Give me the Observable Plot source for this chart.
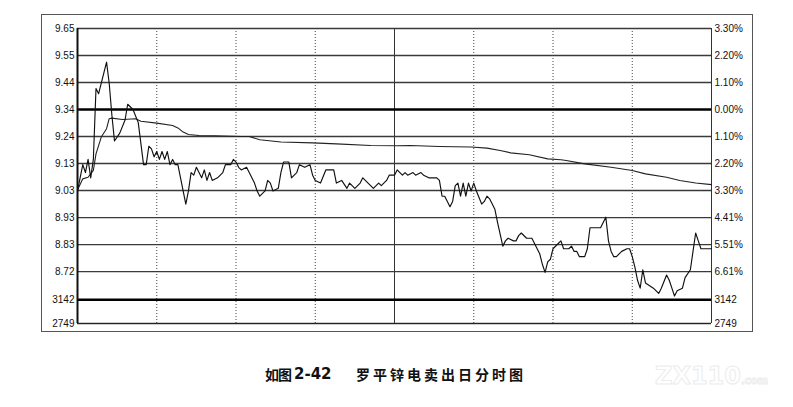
<!DOCTYPE html>
<html>
<head>
<meta charset="utf-8">
<script src="https://cdn.jsdelivr.net/npm/d3@7"></script>
<script src="https://cdn.jsdelivr.net/npm/@observablehq/plot@0.6"></script>
<style>
  html, body { margin: 0; padding: 0; background: #fff; }
  #wrap { position: relative; width: 793px; height: 407px; overflow: hidden; }
  #frame { position: absolute; left: 41px; top: 14px; width: 710px; height: 316px; border: 1px solid #555; pointer-events: none; }
  .cap { position: absolute; top: 365px; font-weight: bold; color: #111; white-space: pre; line-height: 18px; }
  #cap1 { left: 265px; font-family: "Noto Sans CJK SC", sans-serif; font-size: 14px; letter-spacing: -1px; }
  #cap2 { left: 294px; font-family: "DejaVu Sans", sans-serif; font-size: 15px; top: 365px; }
  #cap3 { left: 356px; font-family: "Noto Sans CJK SC", sans-serif; font-size: 14px; letter-spacing: 3px; }
  #wm { position: absolute; left: 655px; top: 362px; font-family: "DejaVu Sans", sans-serif; font-size: 24px; font-weight: bold; color: transparent; -webkit-text-stroke: 1px #ececec; white-space: nowrap; }
  #wm small { font-size: 10px; }
</style>
</head>
<body>
<div id="wrap">
  <div id="chart"></div>
  <div id="frame"></div>
  <span class="cap" id="cap1">如图</span>
  <span class="cap" id="cap2">2-42</span>
  <span class="cap" id="cap3">罗平锌电卖出日分时图</span>
  <div id="wm">ZX110<small>.com</small></div>
</div>
<script>
// ---- data ----
const prevClose = 9.34;
const pctLevels = [3.30, 2.20, 1.10, 0.00, -1.10, -2.20, -3.30, -4.41, -5.51, -6.61];
const leftLabels = ["9.65", "9.55", "9.44", "9.34", "9.24", "9.13", "9.03", "8.93", "8.83", "8.72"];
const rightLabels = ["3.30%", "2.20%", "1.10%", "0.00%", "1.10%", "2.20%", "3.30%", "4.41%", "5.51%", "6.61%"];
const volumeLabels = ["3142", "2749"];
const volumePanePct = [-7.75, -8.72];   // volume pane top / bottom, in price-pane units
const timeGrid = [30, 60, 90, 120, 150, 180, 210];

const priceMinutes = [0,2,3,4,5,6,7,8,9,11,12,13,14,16,18,19,21,23,24,25,26,27,28,29,30,31,32,33,34,35,36,37,38,39,41,42,43,44,45,47,48,49,50,51,53,55,56,58,59,60,61,62,64,65,67,68,69,71,72,73,74,76,77,78,80,81,83,84,86,88,89,90,92,94,97,98,100,102,103,105,107,108,110,112,114,115,117,118,120,121,123,124,125,127,128,130,131,133,134,136,137,138,139,141,142,143,144,145,146,147,148,149,150,151,153,154,155,156,158,159,161,162,163,165,166,167,168,170,172,173,175,176,177,178,179,180,182,183,184,185,186,187,188,189,190,192,193,194,195,198,200,201,202,203,204,206,208,209,210,211,212,213,214,215,218,220,221,223,224,225,226,227,229,230,232,233,234,235,236,237,239,240];
const priceValues = [9.03,9.13,9.10,9.15,9.08,9.15,9.42,9.40,9.44,9.52,9.44,9.32,9.22,9.25,9.30,9.36,9.34,9.29,9.21,9.13,9.13,9.20,9.19,9.16,9.18,9.15,9.18,9.15,9.18,9.13,9.15,9.13,9.13,9.08,8.98,9.03,9.10,9.09,9.12,9.08,9.11,9.07,9.10,9.07,9.08,9.10,9.13,9.13,9.15,9.14,9.12,9.11,9.12,9.10,9.06,9.03,9.01,9.03,9.07,9.06,9.03,9.04,9.10,9.14,9.14,9.08,9.10,9.13,9.12,9.13,9.09,9.07,9.06,9.11,9.11,9.06,9.07,9.04,9.06,9.04,9.06,9.08,9.06,9.04,9.06,9.05,9.07,9.09,9.09,9.11,9.09,9.10,9.09,9.10,9.09,9.10,9.09,9.08,9.08,9.08,9.07,9.01,9.01,8.97,8.99,9.05,9.06,9.01,9.06,9.01,9.06,9.03,9.06,9.03,8.98,8.99,9.01,9.00,8.96,8.91,8.82,8.84,8.85,8.84,8.84,8.86,8.87,8.85,8.85,8.83,8.79,8.75,8.72,8.76,8.77,8.81,8.83,8.84,8.81,8.81,8.81,8.82,8.80,8.80,8.78,8.78,8.81,8.89,8.89,8.89,8.93,8.84,8.80,8.78,8.78,8.80,8.81,8.81,8.78,8.74,8.69,8.66,8.73,8.68,8.66,8.64,8.66,8.71,8.69,8.66,8.63,8.65,8.66,8.70,8.73,8.80,8.87,8.84,8.81,8.81,8.81,8.81];

const avgMinutes = [0,2,4,6,7,9,11,12,13,17,22,24,30,36,38,40,42,46,52,62,65,69,77,89,98,111,121,126,137,149,155,160,164,171,178,183,185,192,202,210,215,223,228,234,240];
const avgValues = [9.034,9.076,9.082,9.108,9.171,9.235,9.267,9.305,9.307,9.302,9.305,9.295,9.288,9.279,9.270,9.254,9.245,9.241,9.240,9.237,9.237,9.225,9.216,9.213,9.209,9.203,9.202,9.203,9.199,9.197,9.193,9.184,9.175,9.168,9.152,9.149,9.146,9.133,9.120,9.108,9.095,9.082,9.070,9.060,9.054];

// ---- derived tables ----
const lvl = p => prevClose * (1 + p / 100);
const levels = pctLevels.map((p, i) => ({y: lvl(p), left: leftLabels[i], right: rightLabels[i], bold: p === 0}));
const volLevels = volumePanePct.map((p, i) => ({y: lvl(p), label: volumeLabels[i], bold: i === 0}));
const price = priceMinutes.map((m, i) => ({m, v: priceValues[i]}));
const avg = avgMinutes.map((m, i) => ({m, v: avgValues[i]}));
const allLevels = levels.map(d => ({y: d.y, bold: d.bold}))
  .concat(volLevels.map(d => ({y: d.y, bold: d.bold})));

const chart = Plot.plot({
  width: 793,
  height: 345,
  marginLeft: 77,
  marginRight: 82,
  marginTop: 28,
  marginBottom: 22,
  x: {domain: [0, 240], axis: null},
  y: {domain: [lvl(volumePanePct[1]), lvl(pctLevels[0])], axis: null},
  style: {fontFamily: "'Liberation Sans', Arial, sans-serif", fontSize: "10px", background: "transparent", color: "#111", overflow: "visible"},
  marks: [
    // vertical time grid
    Plot.ruleX(timeGrid.filter(t => t !== 120), {stroke: "#444", strokeWidth: 1, strokeDasharray: "1,2"}),
    Plot.ruleX([120], {stroke: "#333", strokeWidth: 1}),
    // horizontal grid
    Plot.ruleY(allLevels.filter(d => !d.bold), {y: "y", stroke: "#3a3a3a", strokeWidth: 1.3}),
    Plot.ruleY(allLevels.filter(d => d.bold), {y: "y", stroke: "#000", strokeWidth: 2.6}),
    Plot.ruleY(volLevels.slice(1), {y: "y", stroke: "#222", strokeWidth: 1.2}),
    // pane borders
    Plot.ruleX([0], {stroke: "#111", strokeWidth: 2}),
    Plot.ruleX([240], {stroke: "#333", strokeWidth: 1}),
    // series
    Plot.line(avg, {x: "m", y: "v", stroke: "#222", strokeWidth: 1.1}),
    Plot.line(price, {x: "m", y: "v", stroke: "#111", strokeWidth: 1.15}),
    // labels
    Plot.text(levels, {x: () => 0, y: "y", text: "left", textAnchor: "end", dx: -3, fill: "#111"}),
    Plot.text(levels, {x: () => 240, y: "y", text: "right", textAnchor: "start", dx: 3, fill: "#111"}),
    Plot.text(volLevels, {x: () => 0, y: "y", text: "label", textAnchor: "end", dx: -3, fill: "#111"}),
    Plot.text(volLevels, {x: () => 240, y: "y", text: "label", textAnchor: "start", dx: 3, fill: "#111"})
  ]
});
document.getElementById("chart").appendChild(chart);
</script>
</body>
</html>
